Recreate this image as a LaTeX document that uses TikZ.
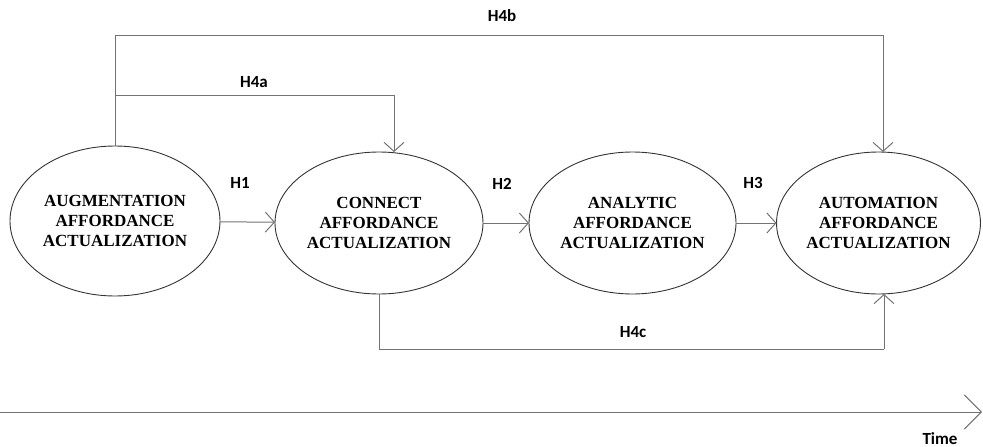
\documentclass[tikz,border=0pt]{standalone}
\usepackage{fontspec}
\setmainfont{Liberation Serif}
\newfontfamily\labelfont{Carlito}
\usetikzlibrary{shapes.geometric,arrows.meta}
\begin{document}
\begin{tikzpicture}[x=1pt,y=-1pt,
  stage/.style={ellipse,draw=black!80,line width=0.9pt,inner sep=0pt,outer sep=0pt,
    align=center,font=\bfseries\fontsize{17}{20}\selectfont},
  hyp/.style={font=\labelfont\bfseries\fontsize{17}{20}\selectfont,inner sep=0pt},
  link/.style={draw=black!55,line width=1pt,-{Straight Barb[length=9pt,width=20pt,line width=1pt]}},
  plain/.style={draw=black!55,line width=1pt}]
\useasboundingbox (0,0) rectangle (983,447);

% the four actualization stages
\node[stage,minimum width=210pt,minimum height=150pt] (aug) at (115,221)
  {AUGMENTATION\\AFFORDANCE\\ACTUALIZATION};
\node[stage,minimum width=208pt,minimum height=142pt] (con) at (379,223)
  {CONNECT\\AFFORDANCE\\ACTUALIZATION};
\node[stage,minimum width=207pt,minimum height=142pt] (ana) at (632.5,223)
  {ANALYTIC\\AFFORDANCE\\ACTUALIZATION};
\node[stage,minimum width=203pt,minimum height=142pt] (aut) at (878.5,223)
  {AUTOMATION\\AFFORDANCE\\ACTUALIZATION};

% sequential hypotheses
\draw[link] (aug) -- (con);
\draw[link] (con) -- (ana);
\draw[link] (ana) -- (aut);

% bypass routes
\coordinate (topb) at (115,35);
\coordinate (topbend) at (883,35);
\coordinate (mida) at (115,95);
\coordinate (midaend) at (394,95);
\coordinate (lowc) at (379,349);
\coordinate (lowcend) at (884,349);
\draw[plain] (aug.north) -- (topb) -- (topbend);
\draw[link] (topbend) -- (topbend |- aut.north);
\draw[plain] (mida) -- (midaend);
\draw[link] (midaend) -- (midaend |- con.north);
\draw[plain] (con.south) -- (lowc) -- (lowcend);
\draw[link] (lowcend) -- (lowcend |- aut.south);

% hypothesis labels
\node[hyp] (h1) at (240,183) {H1};
\node[hyp] (h2) at (502,183.5) {H2};
\node[hyp] (h3) at (753,183) {H3};
\node[hyp] (h4a) at (254,82) {H4a};
\node[hyp] (h4b) at (502,15.5) {H4b};
\node[hyp] (h4c) at (633,332.5) {H4c};

% time axis
\coordinate (t0) at (0,412);
\coordinate (t1) at (982,412);
\draw[draw=black!55,line width=1pt,-{Straight Barb[length=17pt,width=34pt,line width=1pt]}] (t0) -- (t1);
\node[hyp] (time) at (940,438.5) {Time};
\end{tikzpicture}
\end{document}
